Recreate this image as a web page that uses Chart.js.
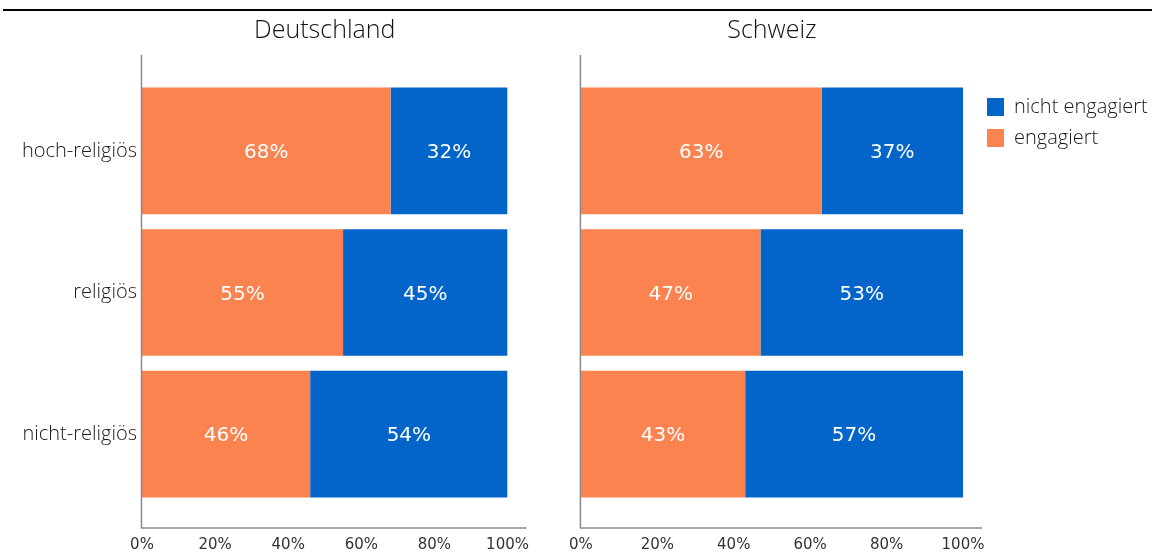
<!DOCTYPE html>
<html>
<head>
<meta charset="utf-8">
<script src="https://cdn.jsdelivr.net/npm/chart.js@4.4.1/dist/chart.umd.min.js"></script>
<style>
  html, body { margin: 0; padding: 0; background: #fff; overflow: hidden; }
  body { width: 1155px; height: 554px; position: relative; }
  #topline { position: absolute; left: 3px; top: 9px; width: 1149px; height: 2px; background: #000; }
  #boxDE { position: absolute; left: 0; top: 0; width: 560px; height: 554px; }
  #boxCH { position: absolute; left: 538px; top: 0; width: 617px; height: 554px; }
</style>
</head>
<body>
<div id="topline"></div>
<div id="boxDE"><canvas id="chartDE"></canvas></div>
<div id="boxCH"><canvas id="chartCH"></canvas></div>
<script>
// values (percent)
const categories = ["hoch-religiös", "religiös", "nicht-religiös"];
const seriesNames = ["engagiert", "nicht engagiert"];
const deEngagiert = [68, 55, 46];
const deNichtEngagiert = [32, 45, 54];
const chEngagiert = [63, 47, 43];
const chNichtEngagiert = [37, 53, 57];
const xTickValues = [0, 20, 40, 60, 80, 100];

const orange = "#FA8350";
const blue = "#0365C9";

// white percent text in the middle of each bar
const barLabels = {
  id: "barLabels",
  afterDatasetsDraw(chart) {
    const ctx = chart.ctx;
    ctx.save();
    ctx.fillStyle = "#fff";
    ctx.font = "20px 'DejaVu Sans'";
    ctx.textAlign = "center";
    ctx.textBaseline = "middle";
    chart.data.datasets.forEach((ds, i) => {
      chart.getDatasetMeta(i).data.forEach((bar, j) => {
        const mid = (bar.x + bar.base) / 2;
        ctx.fillText(ds.data[j] + "%", mid, bar.y + 2);
      });
    });
    ctx.restore();
  }
};

// axis lines run a bit past the bars, like in the original
const axisLines = {
  id: "axisLines",
  afterDraw(chart) {
    const a = chart.chartArea;
    const ctx = chart.ctx;
    ctx.save();
    ctx.strokeStyle = "#8a8a8a";
    ctx.lineWidth = 1.5;
    ctx.beginPath();
    ctx.moveTo(a.left - 0.5, 55);
    ctx.lineTo(a.left - 0.5, 528);
    ctx.lineTo(a.right + 19, 528);
    ctx.stroke();
    ctx.restore();
  }
};

// put the legend right of the plot, level with the top bar
const moveLegend = {
  id: "moveLegend",
  afterLayout(chart) {
    const lg = chart.legend;
    if (!lg) return;
    const pad = lg.options.labels.padding;
    const dx = chart.chartArea.right + 24 - pad - lg.left;
    const dy = 86 - lg.top;
    lg.left += dx; lg.right += dx;
    lg.top += dy; lg.bottom += dy;
  }
};

function makeChart(id, title, engagiert, nicht, yWidth, showLabels, padRight, withLegend) {
  return new Chart(id, {
    type: "bar",
    data: {
      labels: categories,
      datasets: [
        { label: seriesNames[0], data: engagiert, backgroundColor: orange,
          barPercentage: 0.894, categoryPercentage: 1 },
        { label: seriesNames[1], data: nicht, backgroundColor: blue,
          barPercentage: 0.894, categoryPercentage: 1 }
      ]
    },
    options: {
      indexAxis: "y",
      responsive: true,
      maintainAspectRatio: false,
      animation: false,
      layout: { padding: { left: 0, right: padRight, top: 16, bottom: 0 } },
      scales: {
        x: {
          stacked: true,
          min: 0,
          max: 100,
          afterBuildTicks(scale) {
            scale.ticks = xTickValues.map(v => ({ value: v }));
          },
          afterFit(scale) { scale.height = 49; },
          ticks: {
            callback: v => v + "%",
            font: { family: "'DejaVu Sans'", size: 15 },
            color: "#333",
            padding: 31,
            maxRotation: 0
          },
          grid: { display: false, drawTicks: false },
          border: { display: false }
        },
        y: {
          stacked: true,
          afterFit(scale) { scale.width = yWidth; },
          ticks: {
            display: showLabels,
            font: { family: "'Open Sans'", size: 20, weight: "300" },
            color: "#1a1a1a",
            padding: 5
          },
          grid: { display: false, drawTicks: false },
          border: { display: false }
        }
      },
      plugins: {
        title: {
          display: true,
          text: title,
          fullSize: false,
          font: { family: "'Open Sans'", size: 25, weight: "300" },
          color: "#111",
          padding: { top: 0, bottom: 34 }
        },
        legend: withLegend ? {
          display: true,
          position: "chartArea",
          align: "start",
          reverse: true,
          labels: {
            boxWidth: 17,
            boxHeight: 18,
            padding: 11,
            color: "#1a1a1a",
            font: { family: "'Open Sans'", size: 20, weight: "300" }
          }
        } : { display: false },
        tooltip: { enabled: false }
      }
    },
    plugins: withLegend ? [barLabels, axisLines, moveLegend] : [barLabels, axisLines]
  });
}

makeChart("chartDE", "Deutschland", deEngagiert, deNichtEngagiert, 142, true, 49, false);
makeChart("chartCH", "Schweiz", chEngagiert, chNichtEngagiert, 20, false, 192, true);
</script>
</body>
</html>
